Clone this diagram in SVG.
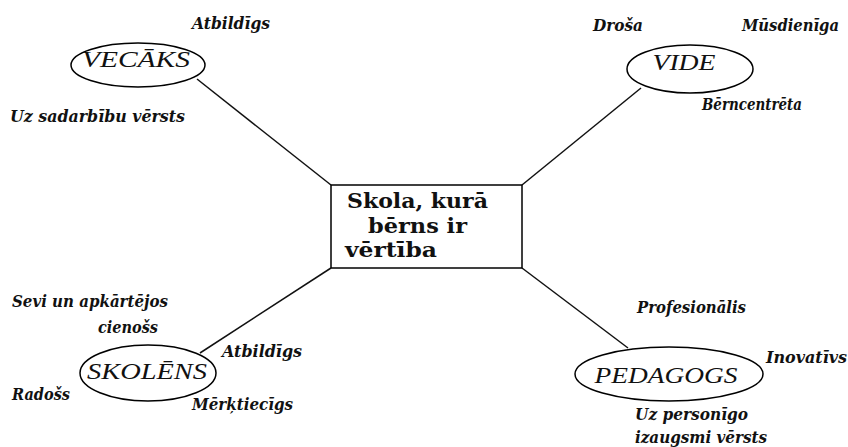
<svg xmlns="http://www.w3.org/2000/svg" width="848" height="447" viewBox="0 0 848 447">
<style>
.bg{fill:#fff}
.node{fill:#fff;stroke:#000;stroke-width:1.5}
.conn line{stroke:#111;stroke-width:1.5}
.nl{font-family:"Liberation Serif",serif;font-style:italic;font-size:23px;fill:#111;text-anchor:middle}
.lb{font-family:"DejaVu Serif",serif;font-style:italic;font-weight:bold;font-size:16px;fill:#111}
.ct{font-family:"DejaVu Serif",serif;font-weight:bold;font-size:20px;fill:#111}
</style>
<rect class="bg" x="0" y="0" width="848" height="447"/>
<g id="connectors" class="conn">
<line x1="197" y1="79" x2="331" y2="185"/>
<line x1="641" y1="88" x2="522" y2="185"/>
<line x1="200" y1="353" x2="331" y2="268"/>
<line x1="628" y1="348" x2="522" y2="268"/>
</g>
<g id="center">
<rect class="node" x="331" y="185" width="191" height="83"/>
<text class="ct" x="347" y="208" textLength="141" lengthAdjust="spacingAndGlyphs">Skola, kurā</text>
<text class="ct" x="368" y="233" textLength="99" lengthAdjust="spacingAndGlyphs">bērns ir</text>
<text class="ct" x="345" y="257" textLength="92" lengthAdjust="spacingAndGlyphs">vērtība</text>
</g>
<g id="vecaks">
<ellipse class="node" cx="138" cy="65" rx="67" ry="22"/>
<text class="nl" x="136" y="67" textLength="108" lengthAdjust="spacingAndGlyphs">VECĀKS</text>
<text class="lb" x="192" y="29" textLength="78" lengthAdjust="spacingAndGlyphs">Atbildīgs</text>
<text class="lb" x="10" y="122" textLength="175" lengthAdjust="spacingAndGlyphs">Uz sadarbību vērsts</text>
</g>
<g id="vide">
<ellipse class="node" cx="690" cy="69" rx="63" ry="24"/>
<text class="nl" x="684" y="70" textLength="63" lengthAdjust="spacingAndGlyphs">VIDE</text>
<text class="lb" x="593" y="31" textLength="50" lengthAdjust="spacingAndGlyphs">Droša</text>
<text class="lb" x="742" y="31" textLength="97" lengthAdjust="spacingAndGlyphs">Mūsdienīga</text>
<text class="lb" x="702" y="110" textLength="100" lengthAdjust="spacingAndGlyphs">Bērncentrēta</text>
</g>
<g id="skolens">
<ellipse class="node" cx="148" cy="373" rx="68" ry="28"/>
<text class="nl" x="147" y="379" font-size="25" textLength="120" lengthAdjust="spacingAndGlyphs">SKOLĒNS</text>
<text class="lb" x="12" y="307" textLength="156" lengthAdjust="spacingAndGlyphs">Sevi un apkārtējos</text>
<text class="lb" x="98" y="333" textLength="60" lengthAdjust="spacingAndGlyphs">cienošs</text>
<text class="lb" x="222" y="357" textLength="80" lengthAdjust="spacingAndGlyphs">Atbildīgs</text>
<text class="lb" x="12" y="400" textLength="58" lengthAdjust="spacingAndGlyphs">Radošs</text>
<text class="lb" x="192" y="410" textLength="101" lengthAdjust="spacingAndGlyphs">Mērķtiecīgs</text>
</g>
<g id="pedagogs">
<ellipse class="node" cx="669" cy="374" rx="94" ry="27"/>
<text class="nl" x="666" y="383" font-size="25" textLength="143" lengthAdjust="spacingAndGlyphs">PEDAGOGS</text>
<text class="lb" x="637" y="313" textLength="109" lengthAdjust="spacingAndGlyphs">Profesionālis</text>
<text class="lb" x="766" y="363" textLength="81" lengthAdjust="spacingAndGlyphs">Inovatīvs</text>
<text class="lb" x="635" y="420" textLength="113" lengthAdjust="spacingAndGlyphs">Uz personīgo</text>
<text class="lb" x="635" y="443" textLength="132" lengthAdjust="spacingAndGlyphs">izaugsmi vērsts</text>
</g>
</svg>
